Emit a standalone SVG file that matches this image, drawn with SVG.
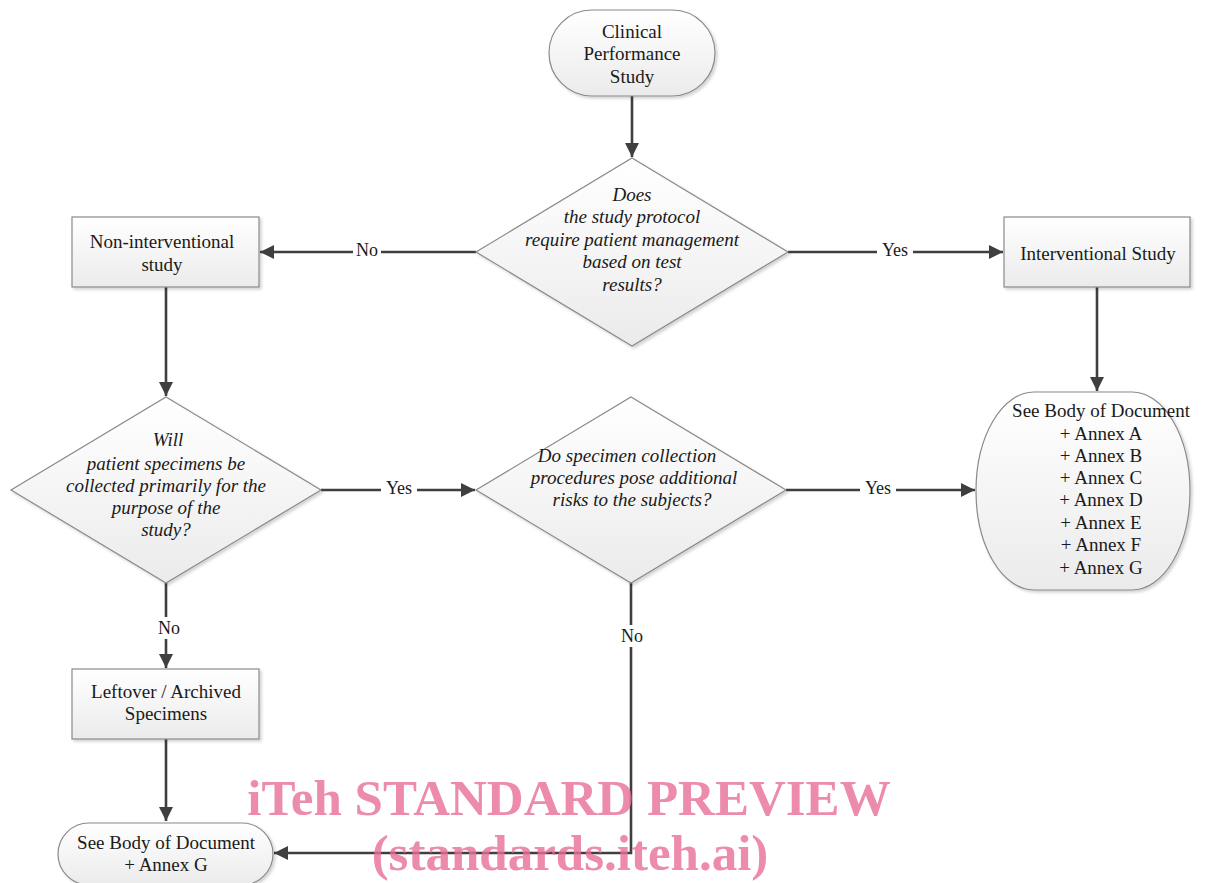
<svg xmlns="http://www.w3.org/2000/svg" width="1220" height="883" viewBox="0 0 1220 883">
<style>
.shape{fill:url(#g);stroke:#8a8a8a;stroke-width:1.2;filter:url(#sh)}
.t{font-family:"Liberation Serif",serif;font-size:19px;fill:#1a1a1a;text-anchor:middle}
.i{font-style:italic}
.c{fill:none;stroke:#3f3f3f;stroke-width:2.6}
.a{marker-end:url(#ar)}
.lb{font-family:"Liberation Serif",serif;font-size:18px;fill:#1a1a1a;text-anchor:middle}
.wm{font-family:"Liberation Serif",serif;font-weight:bold;font-size:51px;fill:rgb(232,110,150);fill-opacity:0.8;text-anchor:middle}
</style>
<defs>
<linearGradient id="g" x1="0" y1="0" x2="0" y2="1"><stop offset="0" stop-color="#ffffff"/><stop offset="1" stop-color="#ebebeb"/></linearGradient>
<filter id="sh" x="-10%" y="-10%" width="120%" height="120%"><feDropShadow dx="2" dy="2" stdDeviation="1.5" flood-color="#000" flood-opacity="0.18"/></filter>
<marker id="ar" viewBox="0 0 10 10" refX="10" refY="5" markerWidth="5.5" markerHeight="5.5" orient="auto" markerUnits="strokeWidth"><path d="M0,0 L10,5 L0,10 z" fill="#3f3f3f"/></marker>
</defs>
<g id="connectors">
<path class="c a" d="M632,96 V157"/>
<path class="c a" d="M476,252 H260"/>
<path class="c a" d="M788,252 H1003"/>
<path class="c a" d="M1097,287 V391"/>
<path class="c a" d="M166,287 V396"/>
<path class="c a" d="M321,490 H475"/>
<path class="c a" d="M786,490 H975"/>
<path class="c a" d="M166,583 V668"/>
<path class="c a" d="M166,739 V821"/>
<path class="c a" d="M631,583 V853 H274"/>
<rect x="353" y="240" width="28" height="22" fill="#fff"/>
<text class="lb" x="367" y="256">No</text>
<rect x="877" y="240" width="36" height="22" fill="#fff"/>
<text class="lb" x="895" y="256">Yes</text>
<rect x="381" y="478" width="36" height="22" fill="#fff"/>
<text class="lb" x="399" y="494">Yes</text>
<rect x="860" y="478" width="36" height="22" fill="#fff"/>
<text class="lb" x="878" y="494">Yes</text>
<rect x="155" y="617" width="28" height="22" fill="#fff"/>
<text class="lb" x="169" y="634">No</text>
<rect x="618" y="625" width="28" height="22" fill="#fff"/>
<text class="lb" x="632" y="642">No</text>
</g>
<g id="start">
<rect class="shape" x="549" y="10" width="166" height="86" rx="43" ry="43"/>
<text class="t" x="632" y="38">Clinical</text>
<text class="t" x="632" y="60">Performance</text>
<text class="t" x="632" y="83">Study</text>
</g>
<g id="d1">
<polygon class="shape" points="632,158 788,252 632,346 476,252"/>
<text class="t i" x="632" y="201">Does</text>
<text class="t i" x="632" y="223">the study protocol</text>
<text class="t i" x="632" y="246">require patient management</text>
<text class="t i" x="632" y="268">based on test</text>
<text class="t i" x="632" y="291">results?</text>
</g>
<g id="nonint">
<rect class="shape" x="72" y="217" width="187" height="70"/>
<text class="t" x="162" y="248">Non-interventional</text>
<text class="t" x="162" y="271">study</text>
</g>
<g id="inter">
<rect class="shape" x="1004" y="217" width="186" height="70"/>
<text class="t" x="1098" y="260">Interventional Study</text>
</g>
<g id="bigend">
<rect class="shape" x="976" y="392" width="214" height="198" rx="58" ry="99"/>
<text class="t" x="1101" y="417">See Body of Document</text>
<text class="t" x="1101" y="440">+ Annex A</text>
<text class="t" x="1101" y="462">+ Annex B</text>
<text class="t" x="1101" y="484">+ Annex C</text>
<text class="t" x="1101" y="506">+ Annex D</text>
<text class="t" x="1101" y="529">+ Annex E</text>
<text class="t" x="1101" y="551">+ Annex F</text>
<text class="t" x="1101" y="574">+ Annex G</text>
</g>
<g id="d2">
<polygon class="shape" points="166,397 321,490 166,583 11,490"/>
<text class="t i" x="168" y="446">Will</text>
<text class="t i" x="166" y="470">patient specimens be</text>
<text class="t i" x="166" y="492">collected primarily for the</text>
<text class="t i" x="166" y="514">purpose of the</text>
<text class="t i" x="166" y="536">study?</text>
</g>
<g id="d3">
<polygon class="shape" points="631,397 786,490 631,583 476,490"/>
<text class="t i" x="627" y="462">Do specimen collection</text>
<text class="t i" x="634" y="484">procedures pose additional</text>
<text class="t i" x="632" y="506">risks to the subjects?</text>
</g>
<g id="leftover">
<rect class="shape" x="72" y="669" width="187" height="70"/>
<text class="t" x="166" y="698">Leftover / Archived</text>
<text class="t" x="166" y="720">Specimens</text>
</g>
<g id="endg">
<rect class="shape" x="58" y="823" width="215" height="62" rx="31" ry="31"/>
<text class="t" x="166" y="849">See Body of Document</text>
<text class="t" x="166" y="871">+ Annex G</text>
</g>
<g id="watermark">
<text class="wm" x="569" y="815">iTeh STANDARD PREVIEW</text>
<text class="wm" x="570" y="870">(standards.iteh.ai)</text>
</g>
</svg>
